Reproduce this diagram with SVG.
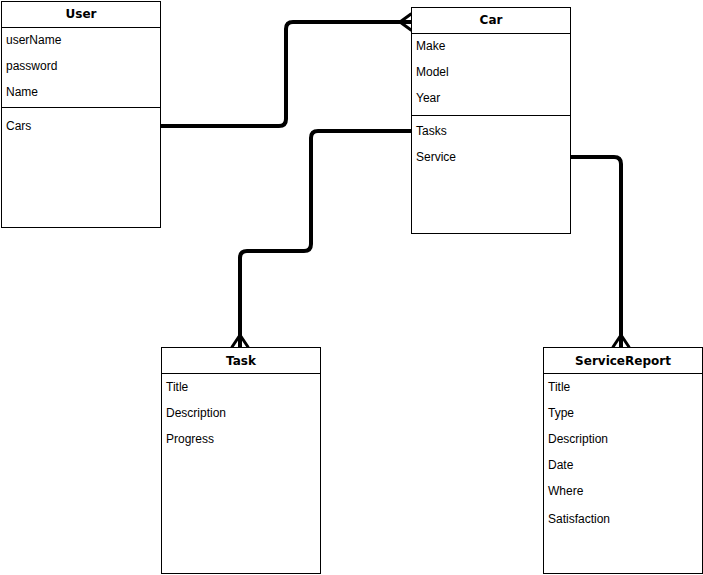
<svg xmlns="http://www.w3.org/2000/svg" width="703" height="575" viewBox="0 0 703 575">
<style>
.box{fill:#fff;stroke:#000;stroke-width:1}
.div{stroke:#000;stroke-width:1}
.hd{font-family:"DejaVu Sans",Verdana,sans-serif;font-weight:bold;font-size:12px;text-anchor:middle;fill:#000}
.f{font-family:"Liberation Sans",Arial,sans-serif;font-size:12px;fill:#000}
.c{fill:none;stroke:#000;stroke-width:4;stroke-linejoin:round}
.cf{fill:none;stroke:#000;stroke-width:3;stroke-linecap:round}
</style>
<rect width="703" height="575" fill="#fff"/>
<g id="connectors">
<path class="c" d="M160,126 L279,126 Q286,126 286,119 L286,29 Q286,22 293,22 L411,22"/>
<path class="cf" d="M400,22 L411,14 M400,22 L411,30"/>
<path class="c" d="M411,131 L318,131 Q311,131 311,138 L311,244 Q311,251 304,251 L247,251 Q240,251 240,258 L240,347"/>
<path class="cf" d="M240,335 L232,347 M240,335 L248,347"/>
<path class="c" d="M570,157 L614,157 Q621,157 621,164 L621,347"/>
<path class="cf" d="M621,335 L613,347 M621,335 L629,347"/>
</g>
<g id="user">
<rect class="box" x="1.5" y="1.5" width="159" height="226"/>
<line class="div" x1="1.5" y1="27.5" x2="160.5" y2="27.5"/>
<line class="div" x1="1.5" y1="107.5" x2="160.5" y2="107.5"/>
<text class="hd" x="81" y="18">User</text>
<text class="f" x="6" y="44">userName</text>
<text class="f" x="6" y="70">password</text>
<text class="f" x="6" y="96">Name</text>
<text class="f" x="6" y="130">Cars</text>
</g>
<g id="car">
<rect class="box" x="411.5" y="7.5" width="159" height="226"/>
<line class="div" x1="411.5" y1="33.5" x2="570.5" y2="33.5"/>
<line class="div" x1="411.5" y1="115.5" x2="570.5" y2="115.5"/>
<text class="hd" x="491" y="24">Car</text>
<text class="f" x="416" y="50">Make</text>
<text class="f" x="416" y="76">Model</text>
<text class="f" x="416" y="102">Year</text>
<text class="f" x="416" y="135">Tasks</text>
<text class="f" x="416" y="161">Service</text>
</g>
<g id="task">
<rect class="box" x="161.5" y="347.5" width="159" height="226"/>
<line class="div" x1="161.5" y1="373.5" x2="320.5" y2="373.5"/>
<text class="hd" x="241" y="365">Task</text>
<text class="f" x="166" y="391">Title</text>
<text class="f" x="166" y="417">Description</text>
<text class="f" x="166" y="443">Progress</text>
</g>
<g id="servicereport">
<rect class="box" x="543.5" y="347.5" width="159" height="226"/>
<line class="div" x1="543.5" y1="373.5" x2="702.5" y2="373.5"/>
<text class="hd" x="623" y="365">ServiceReport</text>
<text class="f" x="548" y="391">Title</text>
<text class="f" x="548" y="417">Type</text>
<text class="f" x="548" y="443">Description</text>
<text class="f" x="548" y="469">Date</text>
<text class="f" x="548" y="495">Where</text>
<text class="f" x="548" y="523">Satisfaction</text>
</g>
</svg>
